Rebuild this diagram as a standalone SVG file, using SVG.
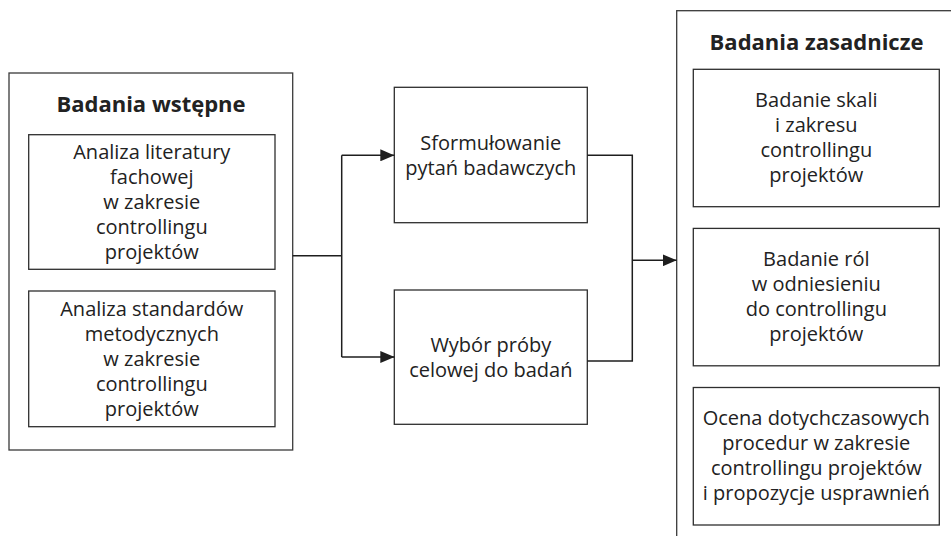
<svg xmlns="http://www.w3.org/2000/svg" width="951" height="536" viewBox="0 0 951 536">
  <style>
    .outer { fill: #ffffff; stroke: #3a3a3a; stroke-width: 1.3; }
    .box { fill: #ffffff; stroke: #2e2e2e; stroke-width: 1.3; }
    .title { font-family: "Open Sans", "Liberation Sans", sans-serif; font-size: 22px; font-weight: 700; fill: #222222; text-anchor: middle; }
    .label { font-family: "Open Sans", "Liberation Sans", sans-serif; font-size: 20px; fill: #222222; text-anchor: middle; }
    .conn { fill: none; stroke: #1e1e1e; stroke-width: 1.5; }
  </style>
  <defs>
    <marker id="arrow" markerUnits="userSpaceOnUse" markerWidth="14" markerHeight="12" refX="14" refY="6" orient="auto">
      <path d="M0,0 L14,6 L0,12 z" fill="#1e1e1e"/>
    </marker>
  </defs>

  <rect width="951" height="536" fill="#ffffff"/>

  <!-- Preliminary research group -->
  <g id="badania-wstepne">
    <rect class="outer" x="9" y="73" width="283.7" height="377"/>
    <text class="title" x="151" y="111.5">Badania wstępne</text>
  </g>
  <g id="analiza-literatury">
    <rect class="box" x="28.7" y="134.7" width="246.3" height="134.6"/>
    <text class="label" x="151.8" y="158.5">Analiza literatury</text>
    <text class="label" x="151.8" y="183.5">fachowej</text>
    <text class="label" x="151.8" y="208.5">w zakresie</text>
    <text class="label" x="151.8" y="233.5">controllingu</text>
    <text class="label" x="151.8" y="258.5">projektów</text>
  </g>
  <g id="analiza-standardow">
    <rect class="box" x="28.7" y="291" width="246.3" height="135.7"/>
    <text class="label" x="151.8" y="315.8">Analiza standardów</text>
    <text class="label" x="151.8" y="340.8">metodycznych</text>
    <text class="label" x="151.8" y="365.8">w zakresie</text>
    <text class="label" x="151.8" y="390.8">controllingu</text>
    <text class="label" x="151.8" y="415.8">projektów</text>
  </g>

  <!-- Middle steps -->
  <g id="sformulowanie-pytan">
    <rect class="box" x="394.3" y="87.3" width="193" height="135.4"/>
    <text class="label" x="490.8" y="149.8">Sformułowanie</text>
    <text class="label" x="490.8" y="174.8">pytań badawczych</text>
  </g>
  <g id="wybor-proby">
    <rect class="box" x="394.3" y="290" width="193" height="134.3"/>
    <text class="label" x="490.8" y="352">Wybór próby</text>
    <text class="label" x="490.8" y="377">celowej do badań</text>
  </g>

  <!-- Main research group (continues past the page edge) -->
  <g id="badania-zasadnicze">
    <rect class="outer" x="676.7" y="10.7" width="320" height="600"/>
    <text class="title" x="816.5" y="50">Badania zasadnicze</text>
  </g>
  <g id="badanie-skali">
    <rect class="box" x="693.3" y="69.3" width="246" height="137.4"/>
    <text class="label" x="816.3" y="107">Badanie skali</text>
    <text class="label" x="816.3" y="132">i zakresu</text>
    <text class="label" x="816.3" y="157">controllingu</text>
    <text class="label" x="816.3" y="182">projektów</text>
  </g>
  <g id="badanie-rol">
    <rect class="box" x="693.3" y="228.4" width="246" height="137.4"/>
    <text class="label" x="816.3" y="266">Badanie ról</text>
    <text class="label" x="816.3" y="291">w odniesieniu</text>
    <text class="label" x="816.3" y="316">do controllingu</text>
    <text class="label" x="816.3" y="341">projektów</text>
  </g>
  <g id="ocena-procedur">
    <rect class="box" x="693.3" y="387.5" width="246" height="137.5"/>
    <text class="label" x="816.3" y="425">Ocena dotychczasowych</text>
    <text class="label" x="816.3" y="450">procedur w zakresie</text>
    <text class="label" x="816.3" y="475">controllingu projektów</text>
    <text class="label" x="816.3" y="500">i propozycje usprawnień</text>
  </g>

  <!-- Connectors -->
  <g id="connectors">
    <path class="conn" d="M292.7 255.7 H341.7"/>
    <path class="conn" d="M341.7 155.3 V357"/>
    <path class="conn" d="M341.7 155.3 H394.3" marker-end="url(#arrow)"/>
    <path class="conn" d="M341.7 357 H394.3" marker-end="url(#arrow)"/>
    <path class="conn" d="M587.3 155.3 H632.3 V361 H587.3"/>
    <path class="conn" d="M632.3 260.3 H676.7" marker-end="url(#arrow)"/>
  </g>
</svg>
